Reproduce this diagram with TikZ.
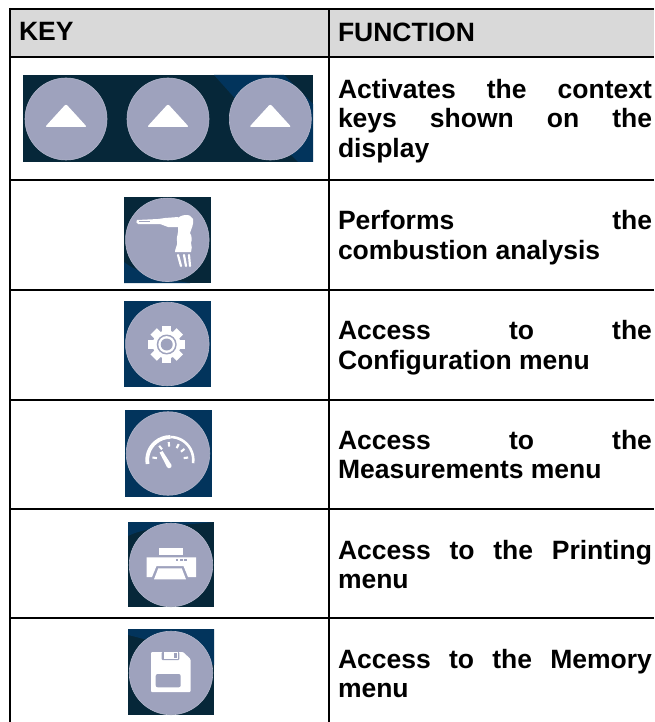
\documentclass[tikz,border=0pt]{standalone}
\usepackage{fontspec}
\setmainfont{Liberation Sans}
\definecolor{hdr}{HTML}{D9D9D9}
\definecolor{dark}{HTML}{062739}
\definecolor{mid}{HTML}{02345C}
\definecolor{disc}{HTML}{9EA2BD}
\tikzset{
  rule/.style={line width=2.2pt,black},
  cell/.style={inner sep=0pt,outer sep=0pt,anchor=north west,font=\fontsize{26.5}{29.7}\selectfont\bfseries},
  fn/.style={cell,text width=314pt,align=justify},
  keydisc/.style={circle,fill=disc,draw=disc!80!white,line width=.6pt,minimum size=83.5pt,inner sep=0pt},
  glyphline/.style={draw=white,fill=none,line cap=round}
}
\begin{document}
\begin{tikzpicture}[x=1pt,y=-1pt]
\useasboundingbox (0,0) rectangle (654,722);
\fill[white] (0,0) rectangle (654,722);
\fill[hdr] (10,9) rectangle (654,57);
% icon backgrounds
\fill[dark] (23,75) rectangle (313,162);
\fill[mid] (214,75) -- (284,75) -- (313,104) -- (313,162) -- (298,162) -- (240,104) -- cycle;
\fill[dark] (124,197) rectangle (211,283);
\fill[mid] (124,262) .. controls (140,275) and (170,280) .. (190,283) -- (124,283) -- cycle;
\fill[mid] (124,301) rectangle (211,387);
\fill[mid] (125,410) rectangle (212,497);
\fill[dark] (128,522) rectangle (214,607);
\fill[mid] (128,536) .. controls (150,525) and (190,525) .. (214,522) -- (128,522) -- cycle;
\fill[dark] (128,629) rectangle (214,715);
\fill[mid] (128,635) .. controls (150,640) and (180,650) .. (214,665) -- (214,629) -- (128,629) -- cycle;
% discs
\node[keydisc,minimum size=82pt] (a1) at (66,119) {};
\node[keydisc,minimum size=82pt] (a2) at (168,119) {};
\node[keydisc,minimum size=82pt] (a3) at (270.3,119) {};
\node[keydisc] (b) at (167.3,239.8) {};
\node[keydisc] (c) at (167.3,344) {};
\node[keydisc] (d) at (168,453.5) {};
\node[keydisc] (e) at (171,565) {};
\node[keydisc] (f) at (171,673) {};
% triangles: apex up in the picture (y axis runs down)
\foreach \n in {a1,a2,a3}{
  \fill[white,rounded corners=2pt] ([shift={(0pt,15pt)}]\n.center) -- ([shift={(21pt,-8pt)}]\n.center) -- ([shift={(-21pt,-8pt)}]\n.center) -- cycle;
}
% combustion probe
\fill[white] (137,220) .. controls (136,222) and (136,223) .. (138,224) -- (160,224) -- (168,227) -- (178,227) -- (178,217) -- (165,218) -- (158,219) -- cycle;
\fill[white] (176,220) .. controls (180,214) and (191,213) .. (193,219) .. controls (194,225) and (191,229) .. (190,233) .. controls (192,236) and (192,240) .. (191,243) .. controls (192,246) and (192,249) .. (191,252) -- (175,252) .. controls (175,248) and (178,245) .. (177,241) .. controls (176,237) and (179,233) .. (178,227) -- cycle;
\fill[disc] (139,220.7) rectangle (150,221.8);
\draw[glyphline,line width=2.2pt] (178,255) -- (181,266);
\draw[glyphline,line width=2.2pt] (184,255) -- (186,266);
\draw[glyphline,line width=2.2pt] (189,255) -- (190,266);
% gear
\foreach \a in {0,45,...,315}{
  \fill[white,rotate around={\a:(166.7,344.5)}] (162.2,326) rectangle (171.2,336);
}
\fill[white] (166.7,344.5) circle[radius=14];
\fill[disc] (166.7,344.5) circle[radius=10];
\fill[white] (166.7,344.5) circle[radius=8.4];
\fill[disc] (166.7,344.5) circle[radius=6];
% gauge
\draw[white,line width=3.8pt] (147.6,464) arc[start angle=170,end angle=270,radius=23];
\draw[white,line width=2.6pt] (170.3,437) arc[start angle=270,end angle=368,radius=23];
\foreach \a in {172,128,95,62,38,8}{
  \draw[white,line width=2.1pt] ({170.3+18*cos(\a)},{460-18*sin(\a)}) -- ({170.3+13.5*cos(\a)},{460-13.5*sin(\a)});
}
\fill[white] (159.5,452.5) -- (162.5,451) -- (171.5,465) .. controls (172.5,468) and (168,469.5) .. (167,467) -- cycle;
% printer
\fill[white] (159,548.3) rectangle (182.7,555);
\fill[white] (146.7,557.3) -- (196,557.3) -- (196,577) -- (188,577) -- (183.5,566) -- (156.5,566) -- (152,577) -- (146.7,577) -- cycle;
\fill[white] (158.3,568.3) -- (181.7,568.3) -- (186,579.3) -- (154,579.3) -- cycle;
\foreach \x in {175.7,180,184.3}{ \fill[disc] (\x,559) rectangle (\x+2.6,561.4); }
% floppy
\fill[white,rounded corners=1pt] (151,652) -- (183,652) -- (190.5,659) -- (190.5,692) -- (151,692) -- cycle;
\fill[disc,rounded corners=1pt] (161.7,652) rectangle (179.3,660);
\fill[white] (163.5,652) rectangle (178,658.5);
\fill[disc] (173.5,653) rectangle (176.5,658);
\fill[disc,rounded corners=2pt] (155.7,674) rectangle (180.7,687.3);
% grid
\draw[rule] (10,9) -- (654,9);
\draw[rule] (10,8) -- (10,722);
\draw[rule] (329,9) -- (329,722);
\foreach \y in {57,180,290,400,509,618}{ \draw[rule] (10,\y) -- (654,\y); }
% text
\node[cell] (k) at (19,22.5) {KEY};
\node[cell] (fu) at (338,22.5) {FUNCTION};
\node[fn] (t1) at (338,79) {Activates the context\linebreak keys shown on the\linebreak display};
\node[fn] (t2) at (338,210.5) {Performs the\linebreak combustion analysis};
\node[fn] (t3) at (338,320.5) {Access to the\linebreak Configuration menu};
\node[fn] (t4) at (338,430) {Access to the\linebreak Measurements menu};
\node[fn] (t5) at (338,540) {Access to the Printing\linebreak menu};
\node[fn] (t6) at (338,649) {Access to the Memory\linebreak menu};
\end{tikzpicture}
\end{document}
